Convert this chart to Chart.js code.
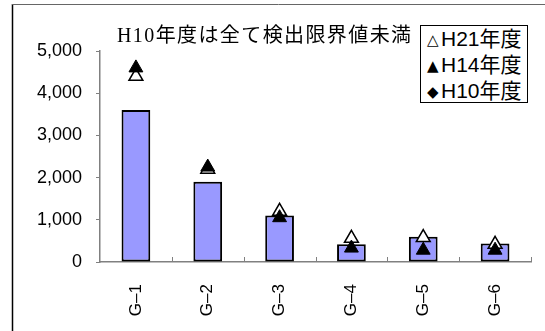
<!DOCTYPE html>
<html>
<head>
<meta charset="utf-8">
<script src="https://cdn.jsdelivr.net/npm/chart.js@4/dist/chart.umd.min.js"></script>
<style>
body { margin: 0; background: #fff; }
#wrap { position: relative; width: 545px; height: 331px; }
#title {
    position: absolute; left: 117px; top: 19px;
    font: 20px "Liberation Serif", "Noto Sans CJK JP", serif;
    letter-spacing: 1.4px; white-space: nowrap; color: #000;
}
#legend {
    position: absolute; left: 420px; top: 25px; width: 108px; height: 78px;
    border: 1px solid #000; background: #fff;
    font: 21px "Liberation Sans", "Noto Sans CJK JP", sans-serif;
    line-height: 26px; padding-left: 6px; box-sizing: border-box; white-space: nowrap;
}
#legend span { font: 15px "DejaVu Sans", sans-serif; display: inline-block; width: 14px; vertical-align: 1px; }
</style>
</head>
<body>
<div id="wrap">
    <canvas id="chart1" width="545" height="331"></canvas>
    <div id="title">H10年度は全て検出限界値未満</div>
    <div id="legend">
        <div><span>△</span>H21年度</div>
        <div><span>▲</span>H14年度</div>
        <div><span>◆</span>H10年度</div>
    </div>
</div>
<script>
const categorias = ['G–1', 'G–2', 'G–3', 'G–4', 'G–5', 'G–6'];
const barras = [3600, 1900, 1100, 420, 600, 440];
const valoresH21 = [4400, 2200, 1200, 560, 580, 420];
const valoresH14 = [4600, 2250, 1050, 330, 280, 280];
const valoresH10 = [null, null, null, null, null, null]; // todos bajo el límite de detección
const ticksY = [0, 1000, 2000, 3000, 4000, 5000];

// marco exterior (solo borde izquierdo y superior visibles)
const marco = {
    id: 'marco',
    beforeDraw(chart) {
        const ctx = chart.ctx;
        ctx.save();
        ctx.strokeStyle = '#000';
        ctx.lineWidth = 1.5;
        ctx.beginPath();
        ctx.moveTo(12.5, 4);
        ctx.lineTo(12.5, 331);
        ctx.stroke();
        ctx.strokeStyle = '#666';
        ctx.lineWidth = 1;
        ctx.beginPath();
        ctx.moveTo(12, 4.5);
        ctx.lineTo(545, 4.5);
        ctx.stroke();
        ctx.restore();
    }
};

// marcas del eje X hacia adentro, entre categorías
const marcasX = {
    id: 'marcasX',
    afterDatasetsDraw(chart) {
        const x = chart.scales.x;
        const ctx = chart.ctx;
        const paso = x.width / categorias.length;
        ctx.save();
        ctx.strokeStyle = '#808080';
        ctx.lineWidth = 1;
        for (let k = 1; k <= categorias.length; k++) {
            const px = Math.round(x.left + k * paso) + 0.5;
            ctx.beginPath();
            ctx.moveTo(px, x.top);
            ctx.lineTo(px, x.top - 5);
            ctx.stroke();
        }
        ctx.restore();
    }
};

new Chart(document.getElementById('chart1'), {
    type: 'bar',
    data: {
        labels: categorias,
        datasets: [
            {
                type: 'line', label: 'H14年度', data: valoresH14, showLine: false,
                pointStyle: 'triangle', pointRadius: 8, pointBackgroundColor: '#000',
                pointBorderColor: '#000', pointBorderWidth: 1
            },
            {
                type: 'line', label: 'H21年度', data: valoresH21, showLine: false,
                pointStyle: 'triangle', pointRadius: 8, pointBackgroundColor: '#fff',
                pointBorderColor: '#000', pointBorderWidth: 1.5
            },
            {
                type: 'line', label: 'H10年度', data: valoresH10, showLine: false,
                pointStyle: 'rectRot', pointRadius: 6, pointBackgroundColor: '#000',
                pointBorderColor: '#000'
            },
            {
                label: '', data: barras, backgroundColor: '#9999FF', borderColor: '#000',
                borderWidth: 2, borderSkipped: false, barPercentage: 0.4, categoryPercentage: 1
            }
        ]
    },
    options: {
        responsive: false,
        animation: false,
        layout: { padding: { left: 0, top: 51, right: 14, bottom: 9 } },
        plugins: {
            legend: { display: false },
            tooltip: { enabled: false }
        },
        scales: {
            x: {
                offset: true,
                grid: { display: false },
                border: { color: '#808080', width: 1.5 },
                ticks: {
                    color: '#000', maxRotation: 90, minRotation: 90, padding: 14,
                    font: { family: '"Liberation Sans", Arial, sans-serif', size: 17 }
                },
                afterFit: s => { s.height = 60; }
            },
            y: {
                min: 0, max: 5000,
                afterBuildTicks: s => { s.ticks = ticksY.map(v => ({ value: v })); },
                grid: { drawOnChartArea: false, drawTicks: true, tickLength: 4, color: '#808080' },
                border: { color: '#808080', width: 1.5 },
                ticks: {
                    color: '#000', padding: 14,
                    font: { family: '"Liberation Sans", Arial, sans-serif', size: 18 },
                    callback: v => v.toLocaleString('en-US')
                },
                afterFit: s => { s.width = 100; }
            }
        }
    },
    plugins: [marco, marcasX]
});
</script>
</body>
</html>
